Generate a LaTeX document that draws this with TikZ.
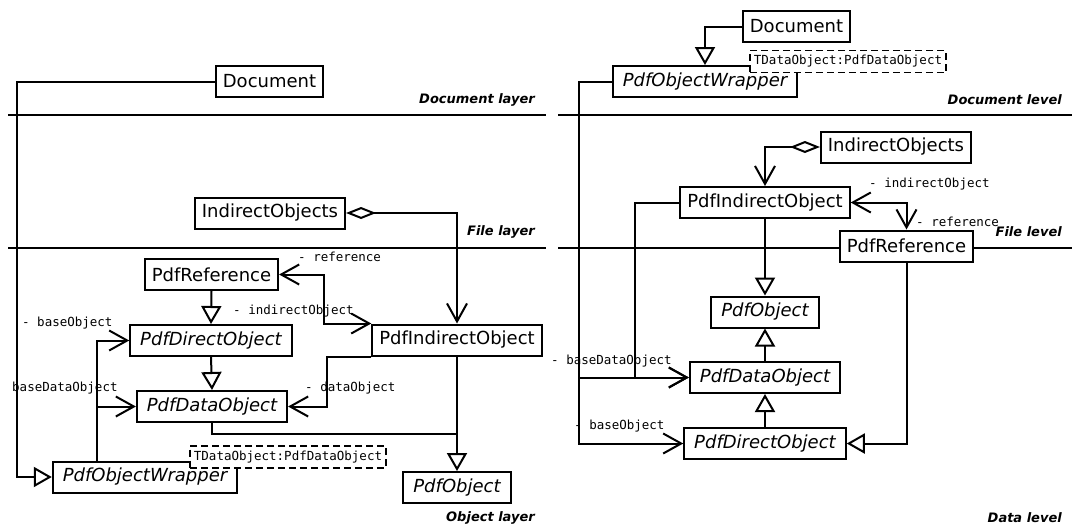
\documentclass[tikz,border=0pt]{standalone}
\usepackage{fontspec}
\setmainfont{DejaVu Sans}
\setmonofont{DejaVu Sans Mono}
\usepackage{tikz}
\usetikzlibrary{arrows.meta, calc}

\tikzset{
	link/.style={line width=2pt},
	cls/.style={draw, fill=white, line width=2pt, minimum height=31pt,
		inner xsep=7pt, inner ysep=0pt, font=\fontsize{18}{20}\selectfont},
	acls/.style={cls, inner xsep=10pt, font=\fontsize{18}{20}\selectfont\itshape},
	tpl/.style={draw, dash pattern=on 7pt off 4pt, fill=white, line width=1.8pt,
		minimum height=22pt, inner xsep=4pt, inner ysep=0pt,
		font=\fontsize{12.5}{14}\selectfont\ttfamily},
	role/.style={inner sep=0pt, font=\fontsize{12.5}{14}\selectfont\ttfamily},
	layertitle/.style={anchor=east, inner sep=0pt, font=\fontsize{13}{15}\selectfont\bfseries\itshape},
	nav/.style={link, -{Straight Barb[length=18pt, width=20pt]}},
	bidir/.style={link, {Straight Barb[length=18pt, width=20pt]}-{Straight Barb[length=18pt, width=20pt]}},
	inh/.style={link, -{Triangle[open, length=18pt, width=20pt]}},
	agg/.style={link, {Diamond[open, length=30pt, width=12pt]}-{Straight Barb[length=18pt, width=20pt]}}
}

\begin{document}
\begin{tikzpicture}[x=1pt, y=-1pt]
	\useasboundingbox (0,0) rectangle (1072,531);
	% layer lines
	\draw[link] (8,115) -- (546,115);
	\draw[link] (8,248) -- (546,248);
	\draw[link] (558,115) -- (1072,115);
	\draw[link] (558,248) -- (1072,248);
	\node[layertitle] (ldoclayer) at (535,100) {Document layer};
	\node[layertitle] (lfilelayer) at (535,232) {File layer};
	\node[layertitle] (lobjlayer) at (535,518) {Object layer};
	\node[layertitle] (rdoclevel) at (1062,100) {Document level};
	\node[layertitle] (rfilelevel) at (1062,232) {File level};
	\node[layertitle] (rdatalevel) at (1062,518) {Data level};

	% left: layers
	\node[cls] (ldoc) at (269.5,81.5) {Document};
	\node[cls] (lio) at (270,213) {IndirectObjects};
	\node[cls] (lref) at (211.5,274.5) {PdfReference};
	\node[acls] (ldirect) at (211,340.5) {PdfDirectObject};
	\node[acls] (ldata) at (212,406.5) {PdfDataObject};
	\node[acls] (lwrap) at (145,477) {PdfObjectWrapper};
	\node[tpl] (ltpl) at (288,457) {TDataObject:PdfDataObject};
	\node[cls] (lind) at (457,340) {PdfIndirectObject};
	\node[acls] (lobj) at (457,487.5) {PdfObject};

	\draw[inh] (ldoc.west) -- ++(-198,0) |- (lwrap.west);
	\draw[nav] ([xshift=45pt]lwrap.north west) |- (ldirect.west);
	\draw[nav] ([xshift=45pt]lwrap.north west) |- (ldata.west);
	\draw[inh] (lref.south) -- (ldirect.north);
	\draw[inh] (ldirect.south) -- (ldata.north);
	\draw[bidir] (lref.east) -- ++(45,0) |- (lind.north west);
	\draw[nav] (lind.south west) -- ++(-44,0) |- (ldata.east);
	\draw[agg] (lio.east) -| (lind.north);
	\draw[inh] (lind.south) -- (lobj.north);
	\draw[link] (ldata.south) |- ([yshift=37pt]lobj.north);

	\node[role, anchor=west] (lrefrole) at (298,257) {- reference};
	\node[role, anchor=west] (lindrole) at (233,311) {- indirectObject};
	\node[role, anchor=west] (lbaserole) at (22,323) {- baseObject};
	\node[role, anchor=west] (lbasedatarole) at (12,388) {baseDataObject};
	\node[role, anchor=west] (ldatarole) at (305,388) {- dataObject};

	% right: levels
	\node[cls] (rdoc) at (796.5,26.5) {Document};
	\node[acls] (rwrap) at (705,81.5) {PdfObjectWrapper};
	\node[tpl] (rtpl) at (848,61.5) {TDataObject:PdfDataObject};
	\node[cls] (rio) at (896,147) {IndirectObjects};
	\node[cls] (rind) at (765,202.5) {PdfIndirectObject};
	\node[cls] (rref) at (906.5,246) {PdfReference};
	\node[acls] (robj) at (765,312) {PdfObject};
	\node[acls] (rdata) at (765,377.5) {PdfDataObject};
	\node[acls] (rdirect) at (765,443.5) {PdfDirectObject};

	\draw[inh] (rdoc.west) -| (rwrap.north);
	\draw[nav] (rwrap.west) -- ++(-33,0) |- (rdirect.west);
	\draw[nav] (rwrap.west) -- ++(-33,0) |- (rdata.west);
	\draw[nav] (rind.west) -- ++(-44,0) |- (rdata.west);
	\draw[agg] (rio.west) -| (rind.north);
	\draw[bidir] (rind.east) -| (rref.north);
	\draw[inh] (rind.south) -- (robj.north);
	\draw[inh] (rdata.north) -- (robj.south);
	\draw[inh] (rdirect.north) -- (rdata.south);
	\draw[inh] (rref.south) |- (rdirect.east);

	\node[role, anchor=west] (rbasedatarole) at (551,361) {- baseDataObject};
	\node[role, anchor=west] (rbaserole) at (574,426) {- baseObject};
	\node[role, anchor=west] (rindrole) at (869,184) {- indirectObject};
	\node[role, anchor=west] (rrefrole) at (916,222) {- reference};
\end{tikzpicture}
\end{document}
